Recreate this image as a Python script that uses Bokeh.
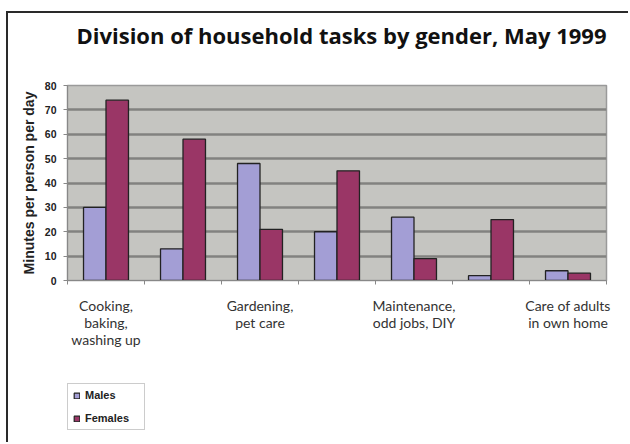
from bokeh.plotting import figure
from bokeh.layouts import column
from bokeh.models import (FixedTicker, LinearAxis, Range1d, Legend, LegendItem, Div)
from bokeh.embed import file_html
from bokeh.resources import INLINE

title = "Division of household tasks by gender, May 1999"
categories = ["Cooking,\nbaking,\nwashing up", "", "Gardening,\npet care", "",
              "Maintenance,\nodd jobs, DIY", "", "Care of adults\nin own home"]
series = ["Males", "Females"]
males = [30, 13, 48, 20, 26, 2, 4]
females = [74, 58, 21, 45, 9, 25, 3]
y_ticks = [0, 10, 20, 30, 40, 50, 60, 70, 80]
y_label = "Minutes per person per day"

male_color = "#a39ed5"
female_color = "#9a3666"

n = len(categories)
centers = [i + 0.5 for i in range(n)]
off = 0.146
bw = 0.292

# title
head = Div(text=title, width=573, height=43, margin=(7, 0, 0, 47),
           styles={"font-family": "Open Sans", "font-size": "22px",
                   "font-weight": "bold", "color": "#111111",
                   "text-align": "center", "line-height": "30px"})

p = figure(width=620, height=307, output_backend="svg", toolbar_location=None,
           x_range=Range1d(0, n), y_range=Range1d(0, 80),
           x_axis_location=None, y_axis_location=None,
           min_border_left=59, min_border_right=22, min_border_top=22,
           min_border_bottom=90)

p.background_fill_color = "#c5c5c1"
p.border_fill_color = "white"
p.outline_line_color = "#9a9a9a"
p.outline_line_width = 1.5

# bars
r1 = p.vbar(x=[c - off for c in centers], top=males, width=bw, bottom=0,
            fill_color=male_color, line_color="#222222", line_width=1.3)
r2 = p.vbar(x=[c + off for c in centers], top=females, width=bw, bottom=0,
            fill_color=female_color, line_color="#222222", line_width=1.3)

# y axis
yax = LinearAxis(ticker=FixedTicker(ticks=y_ticks, minor_ticks=[]))
yax.axis_label = y_label
yax.axis_label_text_font = "Liberation Sans"
yax.axis_label_text_font_size = "14px"
yax.axis_label_text_font_style = "bold"
yax.axis_label_text_color = "#222222"
yax.axis_label_standoff = 5
yax.major_label_text_font = "Liberation Sans"
yax.major_label_text_font_size = "10.5px"
yax.major_label_text_font_style = "bold"
yax.major_label_text_color = "#222222"
yax.axis_line_color = "#888888"
yax.major_tick_line_color = "#888888"
yax.major_tick_out = 4
yax.major_tick_in = 0
yax.major_label_standoff = 7
p.add_layout(yax, "left")

# x axis
overrides = {c: lab for c, lab in zip(centers, categories)}
xax = LinearAxis(ticker=FixedTicker(ticks=centers, minor_ticks=list(range(n + 1))))
xax.major_label_overrides = overrides
xax.major_tick_out = 0
xax.major_tick_in = 0
xax.minor_tick_out = 4
xax.minor_tick_in = 0
xax.minor_tick_line_color = "#888888"
xax.axis_line_color = "#888888"
xax.major_label_text_font = "Lato"
xax.major_label_text_font_size = "14px"
xax.major_label_text_color = "#333333"
xax.major_label_text_line_height = 1.0
xax.major_label_standoff = 12
p.add_layout(xax, "below")

# grid
p.xgrid.visible = False
p.ygrid.ticker = FixedTicker(ticks=y_ticks)
p.ygrid.grid_line_color = "#828280"
p.ygrid.grid_line_width = 2.5

# legend panel (separate small figure under the chart); its bars lie outside its view
q = figure(width=620, height=72, output_backend="svg", toolbar_location=None,
           x_range=Range1d(0, 1), y_range=Range1d(200, 201),
           x_axis_location=None, y_axis_location=None, min_border=0)
q.outline_line_color = None
q.xgrid.visible = False
q.ygrid.visible = False
q.background_fill_color = "white"
q.border_fill_color = "white"
lr1 = q.vbar(x=centers, top=males, width=bw, fill_color=male_color,
             line_color="#222222", line_width=1.2)
lr2 = q.vbar(x=centers, top=females, width=bw, fill_color=female_color,
             line_color="#222222", line_width=1.2)

legend = Legend(items=[LegendItem(label=series[0], renderers=[lr1]),
                       LegendItem(label=series[1], renderers=[lr2])],
                location=(0, 12))
legend.label_text_font = "Liberation Sans"
legend.label_text_font_size = "11px"
legend.label_text_font_style = "bold"
legend.label_text_color = "#222222"
legend.glyph_width = 7
legend.glyph_height = 7
legend.label_standoff = 5
legend.label_width = 54
legend.label_height = 12
legend.padding = 5
legend.spacing = 11
legend.margin = 0
legend.border_line_color = "#999999"
legend.background_fill_color = "white"
q.add_layout(legend, "center")

layout = column(head, p, q, spacing=0)
layout.styles = {"border-top": "2px solid #2a2a2a", "border-left": "2px solid #2a2a2a"}
layout.margin = (11, 0, 0, 6)

open("out.html", "w").write(file_html(layout, INLINE))
